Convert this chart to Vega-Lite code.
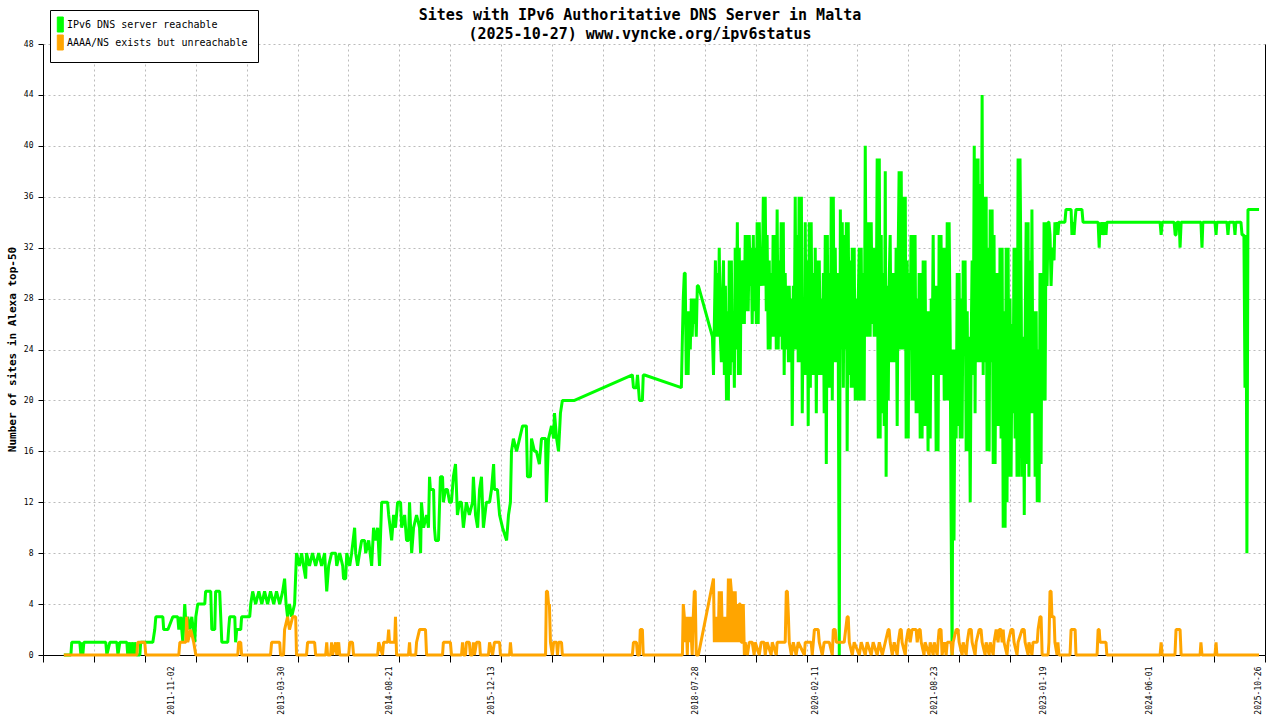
{
"$schema":"https://vega.github.io/schema/vega-lite/v6.json",
"width":1222,"height":611,
"autosize":{"type":"none"},
"padding":{"left":43,"top":44,"right":15,"bottom":65},
"background":"white",
"config":{"view":{"stroke":null},"font":"DejaVu Sans Mono"},
"title":{"text":["Sites with IPv6 Authoritative DNS Server in Malta","(2025-10-27) www.vyncke.org/ipv6status"],"font":"DejaVu Sans Mono","fontSize":15,"fontWeight":"bold","color":"black","anchor":"middle","frame":"group","offset":4,"dx":-14,"dy":36,"lineHeight":19},
"datasets":{
"reachable":[
{"date":"2010-06-13","sites":0},{"date":"2010-07-16","sites":0},{"date":"2010-07-20","sites":1},{"date":"2010-08-27","sites":1},{"date":"2010-09-01","sites":0},{"date":"2010-09-05","sites":1},{"date":"2010-09-10","sites":0},{"date":"2010-09-15","sites":1},{"date":"2010-12-27","sites":1},{"date":"2011-01-01","sites":0},{"date":"2011-01-15","sites":1},{"date":"2011-02-17","sites":1},{"date":"2011-02-22","sites":0},{"date":"2011-03-03","sites":1},{"date":"2011-04-05","sites":1},{"date":"2011-04-09","sites":0},{"date":"2011-04-14","sites":1},{"date":"2011-04-24","sites":0},{"date":"2011-04-28","sites":1},{"date":"2011-05-08","sites":0},{"date":"2011-05-12","sites":1},{"date":"2011-05-22","sites":0},{"date":"2011-06-05","sites":0},{"date":"2011-06-09","sites":1},{"date":"2011-08-05","sites":1},{"date":"2011-08-14","sites":2},{"date":"2011-08-19","sites":3},{"date":"2011-09-21","sites":3},{"date":"2011-09-25","sites":2},{"date":"2011-10-15","sites":2},{"date":"2011-11-07","sites":3},{"date":"2011-11-30","sites":3},{"date":"2011-12-05","sites":2},{"date":"2011-12-15","sites":3},{"date":"2011-12-19","sites":2},{"date":"2011-12-24","sites":1},{"date":"2012-01-02","sites":4},{"date":"2012-01-09","sites":2},{"date":"2012-01-16","sites":3},{"date":"2012-01-25","sites":2},{"date":"2012-02-04","sites":3},{"date":"2012-02-18","sites":1},{"date":"2012-02-23","sites":3},{"date":"2012-03-03","sites":4},{"date":"2012-04-05","sites":4},{"date":"2012-04-09","sites":5},{"date":"2012-05-03","sites":5},{"date":"2012-05-08","sites":2},{"date":"2012-05-22","sites":2},{"date":"2012-05-26","sites":5},{"date":"2012-06-14","sites":5},{"date":"2012-06-19","sites":3},{"date":"2012-06-24","sites":1},{"date":"2012-07-22","sites":1},{"date":"2012-07-26","sites":2},{"date":"2012-07-31","sites":3},{"date":"2012-08-24","sites":3},{"date":"2012-08-28","sites":1},{"date":"2012-09-02","sites":2},{"date":"2012-09-21","sites":2},{"date":"2012-09-25","sites":3},{"date":"2012-11-02","sites":3},{"date":"2012-11-07","sites":4},{"date":"2012-11-16","sites":5},{"date":"2012-11-30","sites":4},{"date":"2012-12-15","sites":5},{"date":"2012-12-29","sites":4},{"date":"2013-01-11","sites":5},{"date":"2013-01-25","sites":4},{"date":"2013-02-08","sites":5},{"date":"2013-02-23","sites":4},{"date":"2013-03-08","sites":5},{"date":"2013-03-23","sites":4},{"date":"2013-04-06","sites":5},{"date":"2013-04-15","sites":6},{"date":"2013-04-22","sites":4},{"date":"2013-04-29","sites":3},{"date":"2013-05-08","sites":4},{"date":"2013-05-18","sites":3},{"date":"2013-06-01","sites":4},{"date":"2013-06-10","sites":8},{"date":"2013-06-24","sites":7},{"date":"2013-07-04","sites":8},{"date":"2013-07-13","sites":7},{"date":"2013-07-23","sites":6},{"date":"2013-07-27","sites":8},{"date":"2013-08-10","sites":7},{"date":"2013-08-24","sites":8},{"date":"2013-09-08","sites":7},{"date":"2013-09-22","sites":8},{"date":"2013-10-06","sites":7},{"date":"2013-10-20","sites":8},{"date":"2013-10-30","sites":5},{"date":"2013-11-08","sites":7},{"date":"2013-11-22","sites":8},{"date":"2013-12-11","sites":8},{"date":"2013-12-16","sites":7},{"date":"2013-12-30","sites":8},{"date":"2014-01-13","sites":7},{"date":"2014-01-17","sites":6},{"date":"2014-01-27","sites":6},{"date":"2014-02-01","sites":8},{"date":"2014-02-15","sites":7},{"date":"2014-02-24","sites":8},{"date":"2014-03-10","sites":10},{"date":"2014-03-15","sites":8},{"date":"2014-03-24","sites":7},{"date":"2014-04-02","sites":8},{"date":"2014-04-12","sites":9},{"date":"2014-04-26","sites":9},{"date":"2014-05-01","sites":8},{"date":"2014-05-15","sites":9},{"date":"2014-05-29","sites":7},{"date":"2014-06-07","sites":10},{"date":"2014-06-17","sites":9},{"date":"2014-06-26","sites":10},{"date":"2014-07-05","sites":7},{"date":"2014-07-15","sites":12},{"date":"2014-08-12","sites":12},{"date":"2014-08-17","sites":11},{"date":"2014-08-31","sites":9},{"date":"2014-09-09","sites":11},{"date":"2014-09-18","sites":10},{"date":"2014-09-28","sites":12},{"date":"2014-10-12","sites":12},{"date":"2014-10-17","sites":10},{"date":"2014-10-31","sites":11},{"date":"2014-11-09","sites":9},{"date":"2014-11-18","sites":9},{"date":"2014-11-23","sites":12},{"date":"2014-12-03","sites":8},{"date":"2014-12-12","sites":10},{"date":"2014-12-26","sites":11},{"date":"2015-01-09","sites":10},{"date":"2015-01-14","sites":8},{"date":"2015-01-18","sites":12},{"date":"2015-01-28","sites":10},{"date":"2015-02-11","sites":11},{"date":"2015-02-20","sites":10},{"date":"2015-02-25","sites":14},{"date":"2015-03-01","sites":13},{"date":"2015-03-16","sites":13},{"date":"2015-03-20","sites":10},{"date":"2015-03-25","sites":9},{"date":"2015-04-08","sites":9},{"date":"2015-04-17","sites":14},{"date":"2015-04-27","sites":14},{"date":"2015-05-01","sites":12},{"date":"2015-05-11","sites":13},{"date":"2015-05-20","sites":13},{"date":"2015-05-30","sites":12},{"date":"2015-06-08","sites":12},{"date":"2015-06-17","sites":14},{"date":"2015-06-27","sites":15},{"date":"2015-07-06","sites":11},{"date":"2015-07-16","sites":12},{"date":"2015-07-25","sites":12},{"date":"2015-08-03","sites":10},{"date":"2015-08-17","sites":12},{"date":"2015-08-31","sites":11},{"date":"2015-09-15","sites":12},{"date":"2015-09-19","sites":14},{"date":"2015-09-29","sites":11},{"date":"2015-10-09","sites":10},{"date":"2015-10-18","sites":13},{"date":"2015-10-27","sites":14},{"date":"2015-11-05","sites":10},{"date":"2015-11-19","sites":12},{"date":"2015-12-04","sites":12},{"date":"2015-12-13","sites":13},{"date":"2015-12-23","sites":15},{"date":"2015-12-27","sites":13},{"date":"2016-01-10","sites":13},{"date":"2016-01-20","sites":11},{"date":"2016-02-03","sites":10},{"date":"2016-02-22","sites":9},{"date":"2016-03-02","sites":11},{"date":"2016-03-11","sites":12},{"date":"2016-03-16","sites":16},{"date":"2016-03-25","sites":17},{"date":"2016-04-09","sites":16},{"date":"2016-04-23","sites":17},{"date":"2016-05-07","sites":18},{"date":"2016-05-25","sites":18},{"date":"2016-05-30","sites":14},{"date":"2016-06-13","sites":14},{"date":"2016-06-18","sites":17},{"date":"2016-07-02","sites":16},{"date":"2016-07-11","sites":16},{"date":"2016-07-25","sites":15},{"date":"2016-08-04","sites":17},{"date":"2016-08-23","sites":17},{"date":"2016-08-27","sites":12},{"date":"2016-09-06","sites":17},{"date":"2016-09-20","sites":18},{"date":"2016-09-30","sites":17},{"date":"2016-10-04","sites":19},{"date":"2016-10-14","sites":17},{"date":"2016-10-23","sites":16},{"date":"2016-11-01","sites":19},{"date":"2016-11-10","sites":20},{"date":"2017-01-06","sites":20},{"date":"2017-10-05","sites":22},{"date":"2017-10-10","sites":21},{"date":"2017-10-24","sites":21},{"date":"2017-10-29","sites":22},{"date":"2017-11-07","sites":20},{"date":"2017-11-21","sites":20},{"date":"2017-11-25","sites":22},{"date":"2017-12-01","sites":22},{"date":"2018-05-23","sites":21},{"date":"2018-05-28","sites":25},{"date":"2018-06-01","sites":28},{"date":"2018-06-06","sites":30},{"date":"2018-06-10","sites":30},{"date":"2018-06-15","sites":22},{"date":"2018-06-20","sites":27},{"date":"2018-06-24","sites":22},{"date":"2018-06-29","sites":27},{"date":"2018-07-04","sites":24},{"date":"2018-07-09","sites":28},{"date":"2018-07-13","sites":25},{"date":"2018-07-18","sites":28},{"date":"2018-07-23","sites":26},{"date":"2018-07-27","sites":28},{"date":"2018-08-01","sites":25},{"date":"2018-08-06","sites":29},{"date":"2018-08-11","sites":29},{"date":"2018-10-16","sites":25},{"date":"2018-10-21","sites":22},{"date":"2018-10-30","sites":31},{"date":"2018-11-03","sites":25},{"date":"2018-11-08","sites":30},{"date":"2018-11-12","sites":25},{"date":"2018-11-17","sites":32},{"date":"2018-11-22","sites":25},{"date":"2018-11-27","sites":23},{"date":"2018-12-02","sites":28},{"date":"2018-12-07","sites":31},{"date":"2018-12-11","sites":22},{"date":"2018-12-16","sites":29},{"date":"2018-12-21","sites":20},{"date":"2018-12-25","sites":27},{"date":"2018-12-30","sites":20},
{"date":"2019-01-03","sites":31},{"date":"2019-01-08","sites":22},{"date":"2019-01-13","sites":31},{"date":"2019-01-17","sites":23},{"date":"2019-01-22","sites":27},{"date":"2019-01-27","sites":21},{"date":"2019-01-31","sites":32},{"date":"2019-02-05","sites":24},{"date":"2019-02-10","sites":34},{"date":"2019-02-15","sites":22},{"date":"2019-02-19","sites":32},{"date":"2019-02-24","sites":22},{"date":"2019-02-28","sites":31},{"date":"2019-03-05","sites":26},{"date":"2019-03-10","sites":31},{"date":"2019-03-15","sites":26},{"date":"2019-03-19","sites":33},{"date":"2019-03-24","sites":27},{"date":"2019-03-29","sites":33},{"date":"2019-04-02","sites":27},{"date":"2019-04-07","sites":33},{"date":"2019-04-12","sites":29},{"date":"2019-04-16","sites":32},{"date":"2019-04-21","sites":26},{"date":"2019-04-26","sites":33},{"date":"2019-04-30","sites":27},{"date":"2019-05-05","sites":32},{"date":"2019-05-10","sites":26},{"date":"2019-05-14","sites":34},{"date":"2019-05-19","sites":26},{"date":"2019-05-24","sites":34},{"date":"2019-05-29","sites":29},{"date":"2019-06-02","sites":31},{"date":"2019-06-07","sites":29},{"date":"2019-06-12","sites":36},{"date":"2019-06-16","sites":29},{"date":"2019-06-21","sites":36},{"date":"2019-06-26","sites":27},{"date":"2019-06-30","sites":33},{"date":"2019-07-05","sites":24},{"date":"2019-07-10","sites":31},{"date":"2019-07-14","sites":24},{"date":"2019-07-19","sites":30},{"date":"2019-07-24","sites":25},{"date":"2019-07-28","sites":33},{"date":"2019-08-02","sites":25},{"date":"2019-08-07","sites":33},{"date":"2019-08-12","sites":24},{"date":"2019-08-16","sites":35},{"date":"2019-08-21","sites":24},{"date":"2019-08-26","sites":31},{"date":"2019-08-30","sites":25},{"date":"2019-09-04","sites":34},{"date":"2019-09-09","sites":24},{"date":"2019-09-14","sites":34},{"date":"2019-09-18","sites":22},{"date":"2019-09-23","sites":30},{"date":"2019-09-28","sites":24},{"date":"2019-10-03","sites":29},{"date":"2019-10-08","sites":23},{"date":"2019-10-12","sites":29},{"date":"2019-10-17","sites":23},{"date":"2019-10-22","sites":28},{"date":"2019-10-26","sites":18},{"date":"2019-10-31","sites":29},{"date":"2019-11-04","sites":24},{"date":"2019-11-09","sites":36},{"date":"2019-11-13","sites":24},{"date":"2019-11-18","sites":33},{"date":"2019-11-23","sites":23},{"date":"2019-11-27","sites":36},{"date":"2019-12-03","sites":23},{"date":"2019-12-08","sites":36},{"date":"2019-12-12","sites":19},{"date":"2019-12-17","sites":28},{"date":"2019-12-22","sites":22},{"date":"2019-12-26","sites":34},{"date":"2019-12-31","sites":22},
{"date":"2020-01-05","sites":31},{"date":"2020-01-09","sites":18},{"date":"2020-01-14","sites":34},{"date":"2020-01-19","sites":21},{"date":"2020-01-23","sites":34},{"date":"2020-01-28","sites":22},{"date":"2020-02-02","sites":30},{"date":"2020-02-07","sites":22},{"date":"2020-02-11","sites":32},{"date":"2020-02-16","sites":19},{"date":"2020-02-21","sites":31},{"date":"2020-02-25","sites":22},{"date":"2020-03-01","sites":31},{"date":"2020-03-06","sites":22},{"date":"2020-03-10","sites":28},{"date":"2020-03-15","sites":22},{"date":"2020-03-20","sites":30},{"date":"2020-03-24","sites":19},{"date":"2020-03-29","sites":33},{"date":"2020-04-03","sites":15},{"date":"2020-04-08","sites":33},{"date":"2020-04-12","sites":21},{"date":"2020-04-17","sites":30},{"date":"2020-04-22","sites":21},{"date":"2020-04-26","sites":36},{"date":"2020-05-01","sites":20},{"date":"2020-05-06","sites":36},{"date":"2020-05-10","sites":23},{"date":"2020-05-15","sites":32},{"date":"2020-05-20","sites":23},{"date":"2020-05-24","sites":30},{"date":"2020-05-29","sites":25},{"date":"2020-06-03","sites":0},{"date":"2020-06-08","sites":35},{"date":"2020-06-12","sites":24},{"date":"2020-06-17","sites":34},{"date":"2020-06-22","sites":21},{"date":"2020-06-26","sites":33},{"date":"2020-07-01","sites":24},{"date":"2020-07-06","sites":34},{"date":"2020-07-10","sites":16},{"date":"2020-07-15","sites":34},{"date":"2020-07-20","sites":22},{"date":"2020-07-24","sites":31},{"date":"2020-07-29","sites":21},{"date":"2020-08-03","sites":32},{"date":"2020-08-08","sites":21},{"date":"2020-08-12","sites":32},{"date":"2020-08-17","sites":20},{"date":"2020-08-22","sites":28},{"date":"2020-08-26","sites":20},{"date":"2020-08-31","sites":28},{"date":"2020-09-05","sites":32},{"date":"2020-09-09","sites":20},{"date":"2020-09-14","sites":32},{"date":"2020-09-19","sites":20},{"date":"2020-09-23","sites":30},{"date":"2020-09-28","sites":20},{"date":"2020-10-03","sites":40},{"date":"2020-10-08","sites":25},{"date":"2020-10-12","sites":34},{"date":"2020-10-17","sites":25},{"date":"2020-10-22","sites":34},{"date":"2020-10-26","sites":25},{"date":"2020-10-31","sites":34},{"date":"2020-11-05","sites":26},{"date":"2020-11-09","sites":32},{"date":"2020-11-14","sites":25},{"date":"2020-11-19","sites":32},{"date":"2020-11-23","sites":25},{"date":"2020-11-28","sites":39},{"date":"2020-12-03","sites":17},{"date":"2020-12-08","sites":39},{"date":"2020-12-12","sites":17},{"date":"2020-12-17","sites":33},{"date":"2020-12-22","sites":19},{"date":"2020-12-26","sites":30},{"date":"2020-12-31","sites":18},
{"date":"2021-01-05","sites":38},{"date":"2021-01-09","sites":14},{"date":"2021-01-14","sites":29},{"date":"2021-01-19","sites":20},{"date":"2021-01-23","sites":29},{"date":"2021-01-28","sites":33},{"date":"2021-02-02","sites":23},{"date":"2021-02-07","sites":30},{"date":"2021-02-11","sites":23},{"date":"2021-02-16","sites":30},{"date":"2021-02-21","sites":23},{"date":"2021-02-25","sites":32},{"date":"2021-03-02","sites":18},{"date":"2021-03-07","sites":32},{"date":"2021-03-11","sites":38},{"date":"2021-03-16","sites":24},{"date":"2021-03-21","sites":38},{"date":"2021-03-25","sites":24},{"date":"2021-03-30","sites":36},{"date":"2021-04-04","sites":24},{"date":"2021-04-09","sites":36},{"date":"2021-04-13","sites":17},{"date":"2021-04-18","sites":31},{"date":"2021-04-23","sites":17},{"date":"2021-04-27","sites":30},{"date":"2021-05-02","sites":24},{"date":"2021-05-06","sites":33},{"date":"2021-05-11","sites":20},{"date":"2021-05-16","sites":33},{"date":"2021-05-20","sites":20},{"date":"2021-05-25","sites":33},{"date":"2021-05-30","sites":19},{"date":"2021-06-04","sites":28},{"date":"2021-06-09","sites":19},{"date":"2021-06-13","sites":30},{"date":"2021-06-18","sites":17},{"date":"2021-06-23","sites":30},{"date":"2021-06-27","sites":17},{"date":"2021-07-02","sites":31},{"date":"2021-07-06","sites":18},{"date":"2021-07-11","sites":31},{"date":"2021-07-16","sites":18},{"date":"2021-07-20","sites":27},{"date":"2021-07-25","sites":16},{"date":"2021-07-30","sites":27},{"date":"2021-08-04","sites":17},{"date":"2021-08-09","sites":28},{"date":"2021-08-13","sites":22},{"date":"2021-08-18","sites":33},{"date":"2021-08-23","sites":22},{"date":"2021-08-27","sites":29},{"date":"2021-09-01","sites":16},{"date":"2021-09-06","sites":29},{"date":"2021-09-10","sites":16},{"date":"2021-09-15","sites":33},{"date":"2021-09-20","sites":22},{"date":"2021-09-24","sites":33},{"date":"2021-09-29","sites":22},{"date":"2021-10-04","sites":32},{"date":"2021-10-09","sites":20},{"date":"2021-10-13","sites":32},{"date":"2021-10-18","sites":20},{"date":"2021-10-23","sites":34},{"date":"2021-10-27","sites":20},{"date":"2021-11-01","sites":34},{"date":"2021-11-06","sites":25},{"date":"2021-11-10","sites":11},{"date":"2021-11-15","sites":0},{"date":"2021-11-20","sites":24},{"date":"2021-11-24","sites":9},{"date":"2021-11-29","sites":24},{"date":"2021-12-04","sites":17},{"date":"2021-12-09","sites":30},{"date":"2021-12-13","sites":18},{"date":"2021-12-18","sites":30},{"date":"2021-12-23","sites":17},{"date":"2021-12-27","sites":28},
{"date":"2022-01-01","sites":17},{"date":"2022-01-06","sites":31},{"date":"2022-01-11","sites":24},{"date":"2022-01-15","sites":31},{"date":"2022-01-20","sites":16},{"date":"2022-01-25","sites":27},{"date":"2022-01-29","sites":16},{"date":"2022-02-03","sites":25},{"date":"2022-02-08","sites":12},{"date":"2022-02-13","sites":25},{"date":"2022-02-17","sites":31},{"date":"2022-02-22","sites":22},{"date":"2022-02-27","sites":40},{"date":"2022-03-03","sites":19},{"date":"2022-03-08","sites":39},{"date":"2022-03-13","sites":23},{"date":"2022-03-17","sites":39},{"date":"2022-03-22","sites":23},{"date":"2022-03-27","sites":37},{"date":"2022-03-31","sites":23},{"date":"2022-04-05","sites":44},{"date":"2022-04-10","sites":22},{"date":"2022-04-14","sites":36},{"date":"2022-04-19","sites":23},{"date":"2022-04-24","sites":36},{"date":"2022-04-28","sites":16},{"date":"2022-05-03","sites":32},{"date":"2022-05-08","sites":16},{"date":"2022-05-13","sites":35},{"date":"2022-05-17","sites":23},{"date":"2022-05-22","sites":35},{"date":"2022-05-27","sites":15},{"date":"2022-05-31","sites":33},{"date":"2022-06-05","sites":15},{"date":"2022-06-10","sites":30},{"date":"2022-06-14","sites":18},{"date":"2022-06-19","sites":30},{"date":"2022-06-24","sites":18},{"date":"2022-06-28","sites":32},{"date":"2022-07-03","sites":17},{"date":"2022-07-08","sites":32},{"date":"2022-07-13","sites":10},{"date":"2022-07-17","sites":27},{"date":"2022-07-22","sites":10},{"date":"2022-07-27","sites":32},{"date":"2022-07-31","sites":12},{"date":"2022-08-05","sites":32},{"date":"2022-08-10","sites":14},{"date":"2022-08-14","sites":28},{"date":"2022-08-19","sites":14},{"date":"2022-08-24","sites":26},{"date":"2022-08-28","sites":19},{"date":"2022-09-02","sites":32},{"date":"2022-09-07","sites":17},{"date":"2022-09-11","sites":32},{"date":"2022-09-16","sites":14},{"date":"2022-09-21","sites":39},{"date":"2022-09-25","sites":14},{"date":"2022-09-30","sites":39},{"date":"2022-10-06","sites":27},{"date":"2022-10-10","sites":14},{"date":"2022-10-15","sites":25},{"date":"2022-10-20","sites":11},{"date":"2022-10-24","sites":25},{"date":"2022-10-29","sites":34},{"date":"2022-11-02","sites":15},{"date":"2022-11-07","sites":34},{"date":"2022-11-11","sites":14},{"date":"2022-11-16","sites":31},{"date":"2022-11-21","sites":19},{"date":"2022-11-25","sites":35},{"date":"2022-11-30","sites":19},{"date":"2022-12-06","sites":27},{"date":"2022-12-10","sites":14},{"date":"2022-12-15","sites":27},{"date":"2022-12-20","sites":12},{"date":"2022-12-24","sites":24},{"date":"2022-12-29","sites":12},
{"date":"2023-01-02","sites":30},{"date":"2023-01-07","sites":15},{"date":"2023-01-12","sites":30},{"date":"2023-01-16","sites":20},{"date":"2023-01-21","sites":34},{"date":"2023-01-26","sites":20},{"date":"2023-01-30","sites":34},{"date":"2023-02-04","sites":29},{"date":"2023-02-09","sites":34},{"date":"2023-02-13","sites":34},{"date":"2023-02-18","sites":33},{"date":"2023-02-23","sites":29},{"date":"2023-02-27","sites":31},{"date":"2023-03-04","sites":32},{"date":"2023-03-09","sites":31},{"date":"2023-03-13","sites":34},{"date":"2023-03-18","sites":33},{"date":"2023-03-23","sites":34},{"date":"2023-03-27","sites":33},{"date":"2023-04-01","sites":34},{"date":"2023-04-10","sites":34},{"date":"2023-04-29","sites":34},{"date":"2023-05-04","sites":35},{"date":"2023-05-28","sites":35},{"date":"2023-06-01","sites":33},{"date":"2023-06-06","sites":34},{"date":"2023-06-11","sites":33},{"date":"2023-06-15","sites":34},{"date":"2023-06-20","sites":35},{"date":"2023-07-18","sites":35},{"date":"2023-07-23","sites":34},{"date":"2023-10-02","sites":34},{"date":"2023-10-07","sites":32},{"date":"2023-10-11","sites":34},{"date":"2023-10-16","sites":33},{"date":"2023-10-21","sites":34},{"date":"2023-10-30","sites":33},{"date":"2023-11-03","sites":34},{"date":"2023-11-08","sites":33},{"date":"2023-11-12","sites":34},{"date":"2024-07-19","sites":34},{"date":"2024-07-24","sites":33},{"date":"2024-07-29","sites":34},{"date":"2024-09-23","sites":34},{"date":"2024-09-28","sites":33},{"date":"2024-10-02","sites":33},{"date":"2024-10-07","sites":34},{"date":"2024-10-17","sites":34},{"date":"2024-10-21","sites":32},{"date":"2024-10-26","sites":34},{"date":"2025-01-27","sites":34},{"date":"2025-02-01","sites":32},{"date":"2025-02-05","sites":34},{"date":"2025-04-03","sites":34},{"date":"2025-04-08","sites":33},{"date":"2025-04-12","sites":34},{"date":"2025-05-29","sites":34},{"date":"2025-06-03","sites":33},{"date":"2025-06-08","sites":34},{"date":"2025-07-01","sites":34},{"date":"2025-07-06","sites":33},{"date":"2025-07-10","sites":34},{"date":"2025-08-03","sites":34},{"date":"2025-08-08","sites":33},{"date":"2025-08-17","sites":33},{"date":"2025-08-22","sites":21},{"date":"2025-08-27","sites":33},{"date":"2025-08-31","sites":8},{"date":"2025-09-05","sites":35},{"date":"2025-10-27","sites":35}
],
"unreachable":[
{"date":"2010-06-13","sites":0},{"date":"2011-05-22","sites":0},{"date":"2011-05-26","sites":1},{"date":"2011-06-28","sites":1},{"date":"2011-07-03","sites":0},{"date":"2011-12-05","sites":0},{"date":"2011-12-10","sites":1},{"date":"2012-01-07","sites":1},{"date":"2012-01-11","sites":3},{"date":"2012-01-16","sites":1},{"date":"2012-01-30","sites":2},{"date":"2012-02-13","sites":1},{"date":"2012-02-23","sites":0},{"date":"2012-09-07","sites":0},{"date":"2012-09-11","sites":1},{"date":"2012-09-21","sites":1},{"date":"2012-09-25","sites":0},{"date":"2013-02-08","sites":0},{"date":"2013-02-13","sites":1},{"date":"2013-03-23","sites":1},{"date":"2013-03-27","sites":0},{"date":"2013-04-10","sites":0},{"date":"2013-04-15","sites":2},{"date":"2013-04-29","sites":3},{"date":"2013-05-08","sites":2},{"date":"2013-05-23","sites":3},{"date":"2013-06-06","sites":3},{"date":"2013-06-10","sites":0},{"date":"2013-07-27","sites":0},{"date":"2013-08-01","sites":1},{"date":"2013-09-03","sites":1},{"date":"2013-09-08","sites":0},{"date":"2013-10-25","sites":0},{"date":"2013-10-30","sites":1},{"date":"2013-11-03","sites":0},{"date":"2013-11-17","sites":0},{"date":"2013-11-22","sites":1},{"date":"2013-11-26","sites":0},{"date":"2013-12-11","sites":1},{"date":"2013-12-16","sites":0},{"date":"2013-12-25","sites":1},{"date":"2013-12-30","sites":0},{"date":"2014-02-10","sites":0},{"date":"2014-02-15","sites":1},{"date":"2014-02-28","sites":1},{"date":"2014-03-05","sites":0},{"date":"2014-06-26","sites":0},{"date":"2014-07-01","sites":1},{"date":"2014-07-19","sites":0},{"date":"2014-07-24","sites":1},{"date":"2014-08-12","sites":1},{"date":"2014-08-17","sites":2},{"date":"2014-08-21","sites":1},{"date":"2014-09-14","sites":1},{"date":"2014-09-18","sites":3},{"date":"2014-09-23","sites":0},{"date":"2014-11-18","sites":0},{"date":"2014-11-23","sites":1},{"date":"2014-11-27","sites":0},{"date":"2014-12-22","sites":0},{"date":"2014-12-26","sites":1},{"date":"2015-01-09","sites":2},{"date":"2015-02-06","sites":2},{"date":"2015-02-11","sites":0},{"date":"2015-04-27","sites":0},{"date":"2015-05-01","sites":1},{"date":"2015-06-03","sites":1},{"date":"2015-06-08","sites":0},{"date":"2015-07-25","sites":0},{"date":"2015-07-30","sites":1},{"date":"2015-08-03","sites":0},{"date":"2015-08-13","sites":0},{"date":"2015-08-17","sites":1},{"date":"2015-08-31","sites":1},{"date":"2015-09-05","sites":0},{"date":"2015-09-15","sites":0},{"date":"2015-09-19","sites":1},{"date":"2015-09-24","sites":0},{"date":"2015-10-04","sites":1},{"date":"2015-10-18","sites":1},{"date":"2015-10-22","sites":0},{"date":"2015-11-29","sites":0},{"date":"2015-12-04","sites":1},{"date":"2015-12-18","sites":0},{"date":"2015-12-27","sites":1},{"date":"2016-01-20","sites":1},{"date":"2016-01-24","sites":0},{"date":"2016-03-07","sites":0},{"date":"2016-03-11","sites":1},{"date":"2016-03-16","sites":0},{"date":"2016-08-23","sites":0},{"date":"2016-08-27","sites":5},{"date":"2016-09-01","sites":5},{"date":"2016-09-06","sites":4},{"date":"2016-09-10","sites":4},{"date":"2016-09-15","sites":1},{"date":"2016-09-24","sites":0},{"date":"2016-09-30","sites":1},{"date":"2016-10-14","sites":1},{"date":"2016-10-18","sites":0},{"date":"2016-10-23","sites":1},{"date":"2016-11-06","sites":1},{"date":"2016-11-10","sites":0},{"date":"2017-10-05","sites":0},{"date":"2017-10-10","sites":1},{"date":"2017-10-24","sites":1},{"date":"2017-10-29","sites":0},{"date":"2017-11-07","sites":0},{"date":"2017-11-11","sites":2},{"date":"2017-11-21","sites":2},{"date":"2017-11-25","sites":0},{"date":"2018-05-28","sites":0},{"date":"2018-06-01","sites":4},{"date":"2018-06-06","sites":3},{"date":"2018-06-10","sites":1},{"date":"2018-06-15","sites":3},{"date":"2018-06-20","sites":0},{"date":"2018-06-24","sites":3},{"date":"2018-06-29","sites":1},{"date":"2018-07-04","sites":3},{"date":"2018-07-13","sites":0},{"date":"2018-07-18","sites":3},{"date":"2018-07-23","sites":5},{"date":"2018-07-27","sites":5},{"date":"2018-08-01","sites":0},{"date":"2018-08-11","sites":0},{"date":"2018-10-21","sites":6},{"date":"2018-10-25","sites":1},{"date":"2018-10-30","sites":3},{"date":"2018-11-03","sites":1},{"date":"2018-11-08","sites":3},{"date":"2018-11-12","sites":1},{"date":"2018-11-17","sites":5},{"date":"2018-11-22","sites":1},{"date":"2018-11-27","sites":5},{"date":"2018-12-02","sites":1},{"date":"2018-12-07","sites":3},{"date":"2018-12-11","sites":1},{"date":"2018-12-16","sites":3},{"date":"2018-12-21","sites":2},{"date":"2018-12-25","sites":1},{"date":"2018-12-30","sites":6},{"date":"2019-01-03","sites":1},{"date":"2019-01-08","sites":6},{"date":"2019-01-13","sites":5},{"date":"2019-01-17","sites":1},{"date":"2019-01-22","sites":5},{"date":"2019-01-27","sites":1},{"date":"2019-01-31","sites":5},{"date":"2019-02-05","sites":1},{"date":"2019-02-10","sites":4},{"date":"2019-02-15","sites":1},{"date":"2019-02-19","sites":4},{"date":"2019-02-24","sites":4},{"date":"2019-02-28","sites":1},{"date":"2019-03-05","sites":1},{"date":"2019-03-10","sites":4},{"date":"2019-03-15","sites":0},{"date":"2019-03-19","sites":1},{"date":"2019-03-29","sites":0},{"date":"2019-04-07","sites":1},{"date":"2019-04-21","sites":1},{"date":"2019-04-30","sites":0},{"date":"2019-05-05","sites":1},{"date":"2019-05-24","sites":0},{"date":"2019-06-02","sites":1},{"date":"2019-06-16","sites":1},{"date":"2019-06-21","sites":0},{"date":"2019-06-30","sites":1},{"date":"2019-07-19","sites":0},{"date":"2019-07-24","sites":1},{"date":"2019-08-12","sites":0},{"date":"2019-08-16","sites":1},{"date":"2019-09-23","sites":1},{"date":"2019-09-28","sites":5},{"date":"2019-10-03","sites":5},{"date":"2019-10-08","sites":3},{"date":"2019-10-12","sites":1},{"date":"2019-10-22","sites":0},{"date":"2019-10-31","sites":1},{"date":"2019-11-13","sites":0},{"date":"2019-11-23","sites":1},{"date":"2019-12-22","sites":0},{"date":"2019-12-26","sites":1},{"date":"2020-01-23","sites":1},{"date":"2020-01-28","sites":0},{"date":"2020-02-07","sites":2},{"date":"2020-02-25","sites":2},{"date":"2020-03-01","sites":1},{"date":"2020-03-15","sites":0},{"date":"2020-03-24","sites":1},{"date":"2020-04-17","sites":1},{"date":"2020-05-01","sites":0},{"date":"2020-05-06","sites":2},{"date":"2020-05-15","sites":2},{"date":"2020-05-20","sites":1},{"date":"2020-06-17","sites":1},{"date":"2020-06-26","sites":1},{"date":"2020-07-10","sites":3},{"date":"2020-07-15","sites":3},{"date":"2020-07-20","sites":1},{"date":"2020-08-03","sites":0},{"date":"2020-08-12","sites":1},{"date":"2020-09-05","sites":0},{"date":"2020-09-14","sites":1},{"date":"2020-10-03","sites":0},{"date":"2020-10-12","sites":1},{"date":"2020-10-31","sites":0},{"date":"2020-11-09","sites":1},{"date":"2020-11-28","sites":0},{"date":"2020-12-08","sites":1},{"date":"2020-12-22","sites":0},{"date":"2021-01-05","sites":1},{"date":"2021-01-19","sites":2},{"date":"2021-01-23","sites":2},{"date":"2021-01-28","sites":1},{"date":"2021-02-07","sites":0},{"date":"2021-02-16","sites":1},{"date":"2021-03-02","sites":0},{"date":"2021-03-07","sites":1},{"date":"2021-03-16","sites":2},{"date":"2021-03-21","sites":2},{"date":"2021-03-25","sites":1},{"date":"2021-04-09","sites":0},{"date":"2021-04-13","sites":1},{"date":"2021-04-23","sites":2},{"date":"2021-04-27","sites":2},{"date":"2021-05-02","sites":1},{"date":"2021-05-11","sites":2},{"date":"2021-05-30","sites":2},{"date":"2021-06-04","sites":1},{"date":"2021-06-13","sites":2},{"date":"2021-06-18","sites":2},{"date":"2021-06-23","sites":1},{"date":"2021-07-06","sites":0},{"date":"2021-07-11","sites":1},{"date":"2021-07-30","sites":0},{"date":"2021-08-04","sites":1},{"date":"2021-08-18","sites":0},{"date":"2021-08-23","sites":1},{"date":"2021-09-06","sites":0},{"date":"2021-09-10","sites":1},{"date":"2021-09-15","sites":2},{"date":"2021-09-24","sites":2},{"date":"2021-09-29","sites":0},{"date":"2021-10-09","sites":1},{"date":"2021-10-18","sites":0},{"date":"2021-10-23","sites":1},{"date":"2021-11-10","sites":1},{"date":"2021-11-15","sites":0},{"date":"2021-11-20","sites":1},{"date":"2021-12-04","sites":2},{"date":"2021-12-13","sites":2},{"date":"2021-12-18","sites":1},{"date":"2022-01-01","sites":0},{"date":"2022-01-06","sites":1},{"date":"2022-01-20","sites":0},{"date":"2022-01-25","sites":1},{"date":"2022-02-03","sites":2},{"date":"2022-02-13","sites":2},{"date":"2022-02-17","sites":1},{"date":"2022-03-03","sites":0},{"date":"2022-03-08","sites":1},{"date":"2022-03-22","sites":2},{"date":"2022-03-31","sites":2},{"date":"2022-04-05","sites":1},{"date":"2022-04-19","sites":0},{"date":"2022-04-24","sites":1},{"date":"2022-05-08","sites":0},{"date":"2022-05-13","sites":1},{"date":"2022-05-27","sites":0},{"date":"2022-05-31","sites":1},{"date":"2022-06-10","sites":2},{"date":"2022-06-19","sites":1},{"date":"2022-06-24","sites":2},{"date":"2022-07-03","sites":2},{"date":"2022-07-08","sites":1},{"date":"2022-07-13","sites":2},{"date":"2022-07-17","sites":1},{"date":"2022-07-31","sites":0},{"date":"2022-08-05","sites":1},{"date":"2022-08-19","sites":2},{"date":"2022-08-28","sites":2},{"date":"2022-09-02","sites":1},{"date":"2022-09-16","sites":0},{"date":"2022-09-21","sites":1},{"date":"2022-10-10","sites":2},{"date":"2022-10-20","sites":2},{"date":"2022-10-24","sites":1},{"date":"2022-11-07","sites":0},{"date":"2022-11-11","sites":1},{"date":"2022-11-25","sites":0},{"date":"2022-11-30","sites":1},{"date":"2022-12-20","sites":1},{"date":"2022-12-24","sites":2},{"date":"2023-01-02","sites":3},{"date":"2023-01-07","sites":3},{"date":"2023-01-12","sites":0},{"date":"2023-02-09","sites":0},{"date":"2023-02-13","sites":1},{"date":"2023-02-18","sites":5},{"date":"2023-02-23","sites":5},{"date":"2023-02-27","sites":3},{"date":"2023-03-09","sites":3},{"date":"2023-03-13","sites":1},{"date":"2023-03-23","sites":0},{"date":"2023-03-27","sites":1},{"date":"2023-04-01","sites":0},{"date":"2023-05-23","sites":0},{"date":"2023-05-28","sites":2},{"date":"2023-06-16","sites":2},{"date":"2023-06-20","sites":0},{"date":"2023-09-27","sites":0},{"date":"2023-10-02","sites":2},{"date":"2023-10-07","sites":2},{"date":"2023-10-11","sites":1},{"date":"2023-11-08","sites":1},{"date":"2023-11-12","sites":0},{"date":"2024-07-19","sites":0},{"date":"2024-07-24","sites":1},{"date":"2024-07-29","sites":0},{"date":"2024-09-27","sites":0},{"date":"2024-10-02","sites":2},{"date":"2024-10-21","sites":2},{"date":"2024-10-26","sites":0},{"date":"2025-01-23","sites":0},{"date":"2025-01-27","sites":1},{"date":"2025-02-01","sites":0},{"date":"2025-04-03","sites":0},{"date":"2025-04-08","sites":1},{"date":"2025-04-12","sites":0},{"date":"2025-10-27","sites":0}
]
},
"layer":[
{
"data":{"name":"reachable"},
"mark":{"type":"line","strokeWidth":3,"strokeJoin":"bevel"},
"encoding":{
"x":{"field":"date","type":"temporal",
"scale":{"type":"utc","domain":[{"year":2010,"month":3,"date":7,"utc":true},{"year":2025,"month":11,"date":24,"utc":true}]},
"axis":{"orient":"bottom","values":[
{"year":2010,"month":3,"date":7,"utc":true},{"year":2010,"month":11,"date":1,"utc":true},{"year":2011,"month":6,"date":29,"utc":true},{"year":2012,"month":2,"date":23,"utc":true},{"year":2012,"month":10,"date":19,"utc":true},{"year":2013,"month":6,"date":15,"utc":true},{"year":2014,"month":2,"date":9,"utc":true},{"year":2014,"month":10,"date":6,"utc":true},{"year":2015,"month":6,"date":2,"utc":true},{"year":2016,"month":1,"date":28,"utc":true},{"year":2016,"month":9,"date":23,"utc":true},{"year":2017,"month":5,"date":19,"utc":true},{"year":2018,"month":1,"date":14,"utc":true},{"year":2018,"month":9,"date":10,"utc":true},{"year":2019,"month":5,"date":7,"utc":true},{"year":2020,"month":1,"date":1,"utc":true},{"year":2020,"month":8,"date":27,"utc":true},{"year":2021,"month":4,"date":23,"utc":true},{"year":2021,"month":12,"date":18,"utc":true},{"year":2022,"month":8,"date":15,"utc":true},{"year":2023,"month":4,"date":10,"utc":true},{"year":2023,"month":12,"date":5,"utc":true},{"year":2024,"month":7,"date":31,"utc":true},{"year":2025,"month":3,"date":28,"utc":true},{"year":2025,"month":11,"date":24,"utc":true}],
"labels":false,"grid":true,"gridColor":"#bbbbbb","gridDash":[2,3],"gridWidth":1,"ticks":true,"tickSize":7,"tickColor":"black","tickWidth":1,"domain":true,"domainColor":"black","domainWidth":1,"title":null}},
"y":{"field":"sites","type":"quantitative","scale":{"domain":[0,48],"nice":false,"zero":true},
"axis":{"orient":"left","values":[0,4,8,12,16,20,24,28,32,36,40,44,48],"grid":true,"gridColor":"#bbbbbb","gridDash":[2,3],"gridWidth":1,"tickSize":5,"tickColor":"black","domainColor":"black","domainWidth":1,"labelFont":"DejaVu Sans Mono","labelFontSize":8,"labelColor":"black","labelPadding":5,"title":"Number of sites in Alexa top-50","titleFont":"DejaVu Sans Mono","titleFontSize":11,"titleFontWeight":"bold","titleColor":"black","titleX":-31,"titleY":305,"titleAngle":270,"titleAlign":"center","titleBaseline":"middle"}},
"color":{"datum":"IPv6 DNS server reachable","type":"nominal",
"scale":{"domain":["IPv6 DNS server reachable","AAAA/NS exists but unreachable"],"range":["#00ff00","#ffa500"]},
"legend":{"title":null,"orient":"none","legendX":7,"legendY":-34,"direction":"vertical","padding":9.5,"strokeColor":"black","fillColor":"white","cornerRadius":0,"symbolType":"M-2.4,-2.5H-0.4V2.5H-2.4Z","symbolSize":36,"symbolStrokeWidth":1,"symbolStrokeColor":"black","labelFont":"DejaVu Sans Mono","labelFontSize":10,"labelColor":"black","labelOffset":-2.5,"labelLimit":0,"rowPadding":-2,
"encode":{"symbols":{"update":{"fill":{"scale":"color","field":"value"},"stroke":{"value":"black"},"strokeWidth":{"value":1},"opacity":{"value":1},"fillOpacity":{"value":1}}}}}}
}
},
{
"data":{"name":"unreachable"},
"mark":{"type":"line","strokeWidth":3,"strokeJoin":"bevel"},
"encoding":{
"x":{"field":"date","type":"temporal",
"axis":{"orient":"bottom","values":[{"year":2011,"month":11,"date":2,"utc":true},{"year":2013,"month":3,"date":30,"utc":true},{"year":2014,"month":8,"date":21,"utc":true},{"year":2015,"month":12,"date":13,"utc":true},{"year":2018,"month":7,"date":28,"utc":true},{"year":2020,"month":2,"date":11,"utc":true},{"year":2021,"month":8,"date":23,"utc":true},{"year":2023,"month":1,"date":19,"utc":true},{"year":2024,"month":6,"date":1,"utc":true},{"year":2025,"month":10,"date":26,"utc":true}],
"format":"%Y-%m-%d","labelAngle":270,"labelAlign":"right","labelBaseline":"middle","labelPadding":11,"labelFont":"DejaVu Sans Mono","labelFontSize":8,"labelColor":"black","labelOverlap":false,"labelFlush":false,"ticks":false,"tickSize":0,"domain":false,"grid":false,"title":null}},
"y":{"field":"sites","type":"quantitative",
"axis":{"orient":"right","labels":false,"ticks":false,"tickSize":0,"grid":false,"domain":true,"domainColor":"black","domainWidth":1,"title":null}},
"color":{"datum":"AAAA/NS exists but unreachable","type":"nominal"}
}
}
],
"resolve":{"axis":{"x":"independent","y":"independent"}}
}
